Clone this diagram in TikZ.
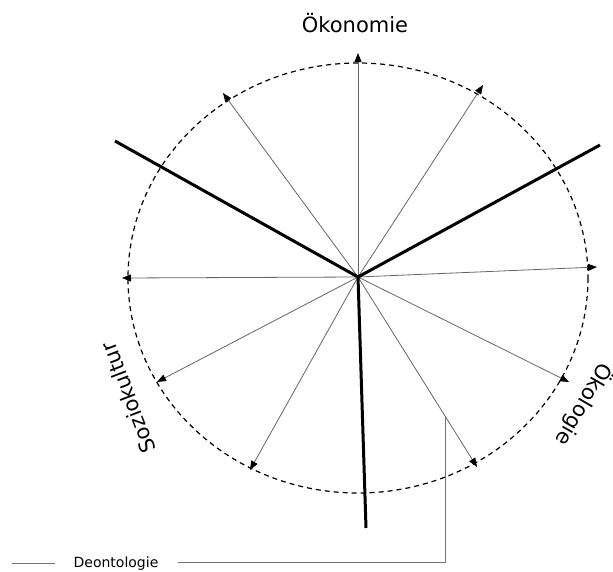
\documentclass[tikz,border=0pt]{standalone}
\usepackage{fontspec}
\setmainfont{DejaVu Sans}
\usetikzlibrary{arrows.meta,calc}
\begin{document}
\begin{tikzpicture}[x=1pt,y=-1pt,
  ray/.style={draw=black!60, line width=0.8pt,
    -{Triangle[length=9pt,width=7pt,color=black]}},
  divider/.style={draw=black, line width=3pt},
  rim/.style={draw=black, line width=1.2pt, dash pattern=on 5pt off 4pt},
  lead/.style={draw=black!55, line width=1pt},
  bigtext/.style={font=\fontsize{21}{25}\selectfont, inner sep=0pt},
  smalltext/.style={font=\fontsize{14}{17}\selectfont, inner sep=0pt}]
  \useasboundingbox (0,0) rectangle (613,571);

  % hub and outer ellipse
  \coordinate (O) at (358,277);
  \draw[rim] (358,278) ellipse [x radius=230, y radius=215];

  % ray tips
  \coordinate (r1) at (358,53);
  \coordinate (r2) at (483,85);
  \coordinate (r3) at (597,267);
  \coordinate (r4) at (569,382);
  \coordinate (r5) at (477,467);
  \coordinate (r6) at (250,470);
  \coordinate (r7) at (157,382);
  \coordinate (r8) at (122,278);
  \coordinate (r9) at (223,93);
  \foreach \t in {r1,r2,r3,r4,r5,r6,r7,r8,r9}
    \draw[ray] (O) -- (\t);

  % sector boundaries
  \coordinate (d1) at (115,141);
  \coordinate (d2) at (600,145);
  \coordinate (d3) at (366,528);
  \foreach \t in {d1,d2,d3}
    \draw[divider] (O) -- (\t);

  % sector labels
  \node[bigtext, anchor=base] (oek) at (355,32) {Ökonomie};
  \node[bigtext, rotate=111] (sozio) at (128,398) {Soziokultur};
  \node[bigtext, rotate=-120] (oeko) at (584,405) {Ökologie};

  % legend entry and its leader to ray r5
  \coordinate (tap) at ($(O)!0.737!(r5)$);
  \coordinate (lk) at (446,562);
  \coordinate (le) at (178,562);
  \node[smalltext, anchor=base] (deon) at (116,567) {Deontologie};
  \coordinate (ka) at (12,563);
  \coordinate (kb) at (55,563);
  \draw[lead] (ka) -- (kb);
  \draw[lead] (tap) -- (tap |- lk) -- (le);
\end{tikzpicture}
\end{document}
